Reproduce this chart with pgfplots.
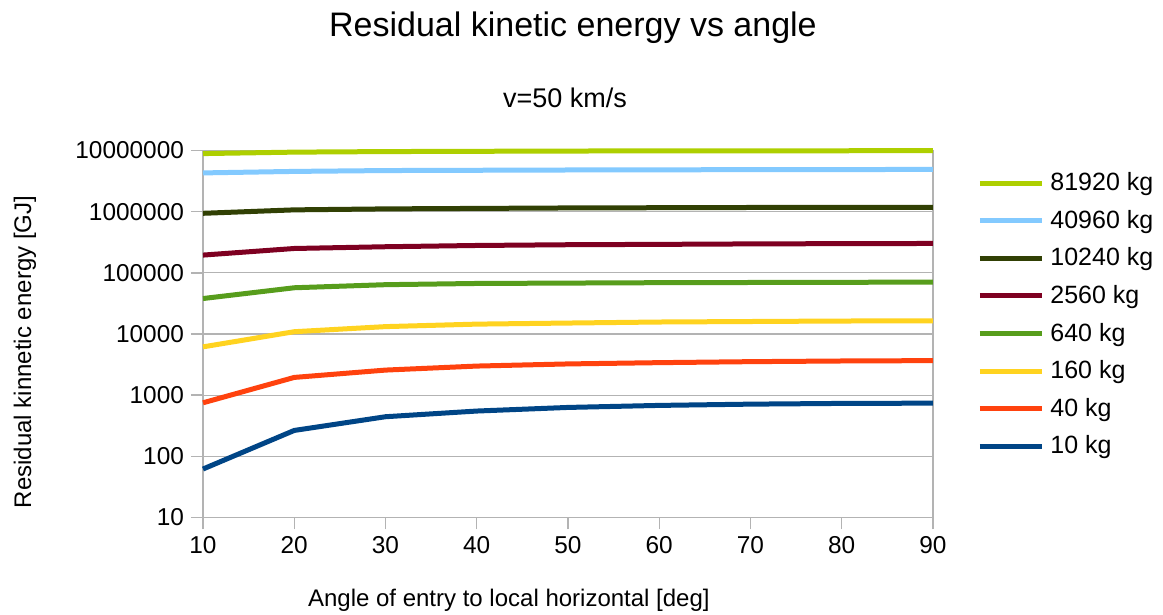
\documentclass[border=0pt]{standalone}
\usepackage{fontspec}
\setmainfont{Liberation Sans}
\usepackage{pgfplots}
\pgfplotsset{compat=1.18}

% LibreOffice default palette
\definecolor{c1}{HTML}{AECF00}
\definecolor{c2}{HTML}{83CAFF}
\definecolor{c3}{HTML}{314004}
\definecolor{c4}{HTML}{7E0021}
\definecolor{c5}{HTML}{579D1C}
\definecolor{c6}{HTML}{FFD320}
\definecolor{c7}{HTML}{FF420E}
\definecolor{c8}{HTML}{004586}
\definecolor{axgray}{HTML}{B3B3B3}

\begin{document}
\begin{tikzpicture}
  % 1 px of the reference = 0.5pt
  \useasboundingbox (0,0) rectangle (581.5pt,307.5pt);
  \begin{axis}[
      at={(101.5pt,48.75pt)}, anchor=south west,
      scale only axis,
      width=365pt, height=183.5pt,
      ymode=log,
      xmin=10, xmax=90, ymin=10, ymax=10000000,
      xtick={10,20,...,90},
      ytick={10,100,1000,10000,100000,1000000,10000000},
      yticklabels={10,100,1000,10000,100000,1000000,10000000},
      yminorticks=false,
      xtick pos=bottom, ytick pos=left,
      tick align=outside,
      major tick length=6pt,
      axis line style={axgray, line width=0.7pt},
      tick style={axgray, line width=0.7pt},
      ymajorgrids,
      major grid style={axgray, line width=0.6pt},
      /pgf/number format/assume math mode=true,
      tick label style={font=\fontsize{12.2pt}{14pt}\selectfont, text=black},
      xlabel={Angle of entry to local horizontal [deg]},
      ylabel={Residual kinnetic energy [GJ]},
      xlabel style={at={(axis description cs:0.419,-0.2248)}, anchor=center,
        font=\fontsize{12pt}{14pt}\selectfont},
      ylabel style={at={(axis description cs:-0.2438,0.451)}, anchor=center,
        font=\fontsize{12pt}{14pt}\selectfont},
      every axis plot/.append style={line width=2.5pt, mark=none},
      legend cell align=left,
      % line sample 31pt long, then a 3pt gap before the text
      legend image code/.code={\draw[#1] (0pt,0pt) -- (31pt,0pt);
        \path (34pt,0pt);},
      legend style={
        at={(axis description cs:1.0603,0.9635)}, anchor=north west,
        draw=none, fill=none, inner sep=0pt, row sep=0pt,
        font=\fontsize{12.5pt}{14pt}\selectfont,
        nodes={inner sep=0pt, text height=13.2pt, text depth=5.6pt},
      },
      clip=false,
    ]
    \addplot[c1] coordinates {(10,8900000) (20,9400000) (30,9600000) (40,9700000) (50,9800000) (60,9850000) (70,9900000) (80,9900000) (90,9950000)};
    \addlegendentry{81920 kg}
    \addplot[c2] coordinates {(10,4300000) (20,4550000) (30,4700000) (40,4750000) (50,4800000) (60,4830000) (70,4860000) (80,4880000) (90,4900000)};
    \addlegendentry{40960 kg}
    \addplot[c3] coordinates {(10,940000) (20,1070000) (30,1110000) (40,1130000) (50,1150000) (60,1160000) (70,1170000) (80,1180000) (90,1180000)};
    \addlegendentry{10240 kg}
    \addplot[c4] coordinates {(10,195000) (20,250000) (30,267000) (40,280000) (50,288000) (60,292000) (70,297000) (80,300000) (90,302000)};
    \addlegendentry{2560 kg}
    \addplot[c5] coordinates {(10,38000) (20,57000) (30,64000) (40,67000) (50,68000) (60,69000) (70,69500) (80,70000) (90,70500)};
    \addlegendentry{640 kg}
    \addplot[c6] coordinates {(10,6160) (20,10900) (30,13200) (40,14500) (50,15100) (60,15700) (70,16000) (80,16300) (90,16400)};
    \addlegendentry{160 kg}
    \addplot[c7] coordinates {(10,750) (20,1950) (30,2570) (40,2990) (50,3240) (60,3400) (70,3530) (80,3620) (90,3670)};
    \addlegendentry{40 kg}
    \addplot[c8] coordinates {(10,62) (20,265) (30,444) (40,550) (50,630) (60,680) (70,713) (80,733) (90,740)};
    \addlegendentry{10 kg}

    \node[font=\fontsize{17pt}{20pt}\selectfont, anchor=center]
      at (axis description cs:0.5068,1.3338) {Residual kinetic energy vs angle};
    \node[font=\fontsize{13.5pt}{16pt}\selectfont, anchor=center]
      at (axis description cs:0.4959,1.143) {v=50 km/s};
  \end{axis}
\end{tikzpicture}
\end{document}
